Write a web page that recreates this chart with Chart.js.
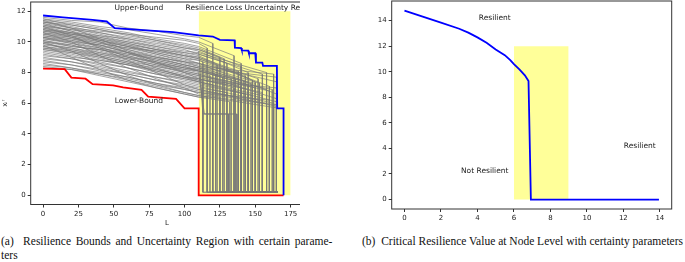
<!DOCTYPE html>
<html>
<head>
<meta charset="utf-8">
<script src="https://cdn.jsdelivr.net/npm/chart.js@4.4.1/dist/chart.umd.min.js"></script>
<style>
  body { margin: 0; background: #fff; width: 685px; height: 262px; position: relative; overflow: hidden; }
  #wrapA { position: absolute; left: 0; top: 0; width: 300px; height: 228px; overflow: hidden; }
  #chartA { position: absolute; left: 0; top: 0; }
  #chartB { position: absolute; left: 360px; top: 0; }
  .cap { position: absolute; top: 234px; font-family: "Liberation Serif", serif; font-size: 11.5px; line-height: 14px; color: #111; white-space: nowrap; }
</style>
</head>
<body>
<div id="wrapA"><canvas id="chartA" width="310" height="228"></canvas></div>
<canvas id="chartB" width="325" height="225"></canvas>
<div class="cap" style="left:1px;"><span style="word-spacing:1.8px;">(a)&nbsp; Resilience Bounds and Uncertainty Region with certain parame-</span><br>ters</div>
<div class="cap" style="left:362px;">(b)&nbsp; Critical Resilience Value at Node Level with certainty parameters</div>

<script>
// ---- chart (a) data ----
const xTicksA = [0, 25, 50, 75, 100, 125, 150, 175];
const yTicksA = [0, 2, 4, 6, 8, 10, 12];

// upper bound (blue)
const upperX = [0, 14, 35, 45, 50.7, 68, 92, 110, 120, 125, 135.4, 135.6, 140, 140.5, 145, 145.5, 150, 150.5, 155, 155.5, 165.3, 165.5, 170, 170];
const upperY = [11.72, 11.6, 11.43, 11.33, 10.9, 10.78, 10.63, 10.43, 10.35, 10.13, 10.1, 9.63, 9.6, 9.45, 9.43, 9.26, 9.26, 8.65, 8.65, 8.43, 8.43, 5.67, 5.67, 0];

// lower bound (red)
const lowerX = [0, 15.3, 20, 30, 35, 49.5, 56.6, 69.6, 74.3, 94, 100, 110, 110, 170];
const lowerY = [8.26, 8.22, 7.67, 7.6, 7.24, 7.17, 7.04, 6.87, 6.43, 6.28, 5.67, 5.67, 0, 0];

// uncertainty region
const regionX = [110, 175];
const regionTop = 12;

// gray runs: values at grayX, then the L where the run falls and the value just before it
const grayX = [0, 20, 40, 60, 80, 100, 110];
const grayRuns = [
  [11.6, 11.4, 11.3, 10.9, 10.7, 10.4, 10.3, 120, 9.9],
  [11.5, 11.3, 11.0, 10.8, 10.5, 10.2, 10.0, 135, 9.1],
  [11.5, 11.1, 10.8, 10.4, 10.1, 9.8, 9.6, 128, 8.9],
  [11.4, 11.2, 10.9, 10.6, 10.2, 9.9, 9.7, 140, 8.6],
  [11.3, 11.0, 10.6, 10.3, 10.0, 9.6, 9.4, 145, 8.0],
  [11.3, 10.9, 10.7, 10.5, 10.3, 10.1, 9.9, 116, 9.6],
  [11.2, 10.9, 10.5, 10.1, 9.7, 9.3, 9.1, 150, 7.4],
  [11.1, 10.8, 10.6, 10.2, 9.8, 9.5, 9.2, 155, 7.9],
  [11.1, 10.7, 10.3, 9.9, 9.5, 9.1, 8.9, 160, 7.1],
  [11.0, 10.8, 10.4, 10.2, 9.9, 9.6, 9.5, 125, 9.0],
  [10.9, 10.6, 10.2, 9.8, 9.3, 8.9, 8.6, 165, 6.6],
  [10.9, 10.5, 10.3, 10.0, 9.6, 9.2, 9.0, 138, 8.1],
  [10.8, 10.6, 10.1, 9.7, 9.4, 9.0, 8.8, 148, 7.5],
  [10.7, 10.4, 10.0, 9.5, 9.0, 8.5, 8.3, 165, 7.7],
  [10.7, 10.5, 10.2, 9.9, 9.5, 9.3, 9.2, 130, 8.6],
  [10.6, 10.3, 9.9, 9.6, 9.2, 8.8, 8.6, 143, 7.8],
  [10.5, 10.2, 9.8, 9.3, 8.8, 8.4, 8.1, 158, 6.9],
  [10.5, 10.3, 10.0, 9.7, 9.3, 8.9, 8.8, 113, 8.7],
  [10.4, 10.1, 9.7, 9.4, 9.0, 8.7, 8.5, 153, 7.3],
  [10.3, 10.0, 9.8, 9.5, 9.1, 8.6, 8.4, 163, 7.9],
  [10.3, 9.9, 9.5, 9.1, 8.6, 8.1, 7.9, 165, 6.3],
  [10.2, 10.0, 9.6, 9.2, 8.9, 8.5, 8.3, 122, 7.9],
  [10.1, 9.8, 9.4, 9.0, 8.7, 8.3, 8.1, 145, 7.2],
  [10.1, 9.7, 9.5, 9.2, 8.8, 8.4, 8.2, 133, 7.6],
  [10.0, 9.8, 9.3, 8.9, 8.5, 8.0, 7.8, 160, 6.8],
  [9.9, 9.6, 9.3, 9.0, 8.6, 8.2, 8.0, 118, 7.8],
  [9.9, 9.5, 9.1, 8.7, 8.2, 7.8, 7.5, 165, 7.0],
  [9.8, 9.6, 9.2, 8.8, 8.4, 8.1, 7.9, 150, 7.0],
  [9.7, 9.4, 9.0, 8.6, 8.3, 7.9, 7.7, 140, 7.1],
  [9.7, 9.5, 9.2, 8.9, 8.5, 8.2, 8.1, 127, 7.7],
  [9.6, 9.3, 8.9, 8.5, 8.0, 7.6, 7.4, 165, 6.1],
  [9.5, 9.2, 8.8, 8.5, 8.2, 7.8, 7.6, 155, 6.7],
  [9.5, 9.3, 9.0, 8.6, 8.1, 7.7, 7.5, 113, 7.4],
  [9.4, 9.1, 8.7, 8.3, 7.9, 7.5, 7.3, 148, 6.5],
  [9.3, 9.0, 8.8, 8.5, 8.1, 7.7, 7.6, 135, 7.0],
  [9.2, 8.9, 8.5, 8.1, 7.7, 7.3, 7.1, 163, 6.0],
  [9.1, 8.9, 8.6, 8.3, 7.9, 7.6, 7.4, 120, 7.2],
  [9.0, 8.7, 8.3, 7.9, 7.5, 7.1, 6.9, 165, 5.8],
  [8.9, 8.7, 8.4, 8.0, 7.7, 7.4, 7.2, 143, 6.6],
  [8.8, 8.5, 8.1, 7.7, 7.3, 6.9, 6.7, 158, 6.0],
  [8.7, 8.5, 8.2, 7.9, 7.5, 7.2, 7.0, 130, 6.7],
  [8.6, 8.3, 7.9, 7.5, 7.1, 6.7, 6.5, 165, 5.9],
  [8.5, 8.3, 8.0, 7.7, 7.3, 7.0, 6.8, 153, 6.2],
  [8.4, 8.2, 7.8, 7.4, 7.0, 6.6, 6.4, 116, 6.4],
  [8.3, 8.2, 7.9, 7.6, 7.2, 6.9, 6.7, 160, 6.2],
  [11.4, 10.9, 10.2, 9.4, 8.7, 8.0, 7.6, 145, 6.9],
  [11.0, 10.4, 9.6, 8.8, 8.0, 7.2, 6.9, 138, 6.4],
  [10.6, 10.0, 9.1, 8.3, 7.6, 7.0, 6.6, 125, 6.4],
  [10.0, 9.4, 8.6, 7.8, 7.2, 6.7, 6.5, 165, 5.7],
  [11.2, 10.7, 10.0, 9.3, 8.6, 8.3, 8.1, 150, 7.3],
  [10.8, 10.3, 9.7, 9.0, 8.3, 7.7, 7.4, 155, 6.5],
  [9.8, 9.0, 8.2, 7.5, 7.0, 6.6, 6.4, 132, 6.1],
  [10.4, 10.2, 9.9, 9.6, 9.4, 9.1, 9.0, 123, 8.5],
  [11.3, 11.1, 10.8, 10.5, 10.1, 9.7, 9.5, 140, 8.4],
  [10.2, 9.9, 9.6, 9.3, 9.0, 8.7, 8.6, 165, 7.4],
  [11.0, 10.6, 10.4, 10.0, 9.7, 9.4, 9.3, 158, 8.0],
  [10.6, 10.4, 10.1, 9.8, 9.5, 9.1, 8.9, 152, 7.6],
  [10.0, 9.7, 9.5, 9.1, 8.7, 8.3, 8.2, 147, 7.3],
  [9.6, 9.4, 9.1, 8.7, 8.4, 8.0, 7.8, 162, 6.9],
  [10.8, 10.5, 10.1, 9.7, 9.2, 8.7, 8.4, 136, 7.6],
  [10.3, 10.1, 9.8, 9.3, 8.9, 8.5, 8.3, 142, 7.5]
];
const grayFloor = 0.2;
const grayEnd = 166;
// two runs that pause on a shelf before falling
const shelfX = [[110, 113, 137, 137], [110, 114, 131, 131]];
const shelfY = [[9.4, 5.3, 5.3, 0.2], [8.0, 5.3, 5.3, 0.2]];

// ---- chart (b) data ----
const xTicksB = [0, 2, 4, 6, 8, 10, 12, 14];
const yTicksB = [0, 2, 4, 6, 8, 10, 12, 14];
const critX = [0, 1, 2, 3, 3.5, 4, 4.5, 5, 5.5, 5.8, 6, 6.3, 6.6, 6.8, 6.93, 13.95];
const critY = [14.78, 14.31, 13.84, 13.37, 13.06, 12.69, 12.27, 11.75, 11.3, 10.92, 10.6, 10.19, 9.72, 9.27, 0, 0];
const bandX = [6, 9];
const bandTop = 12;

const tickFont = { family: "DejaVu Sans", size: 7 };
const noteFont = "7.5px 'DejaVu Sans'";

function pts(xs, ys) {
  return xs.map((x, i) => ({ x: x, y: ys[i] }));
}

function lineSet(data, color, width, order) {
  return { data: data, showLine: true, borderColor: color, borderWidth: width, pointRadius: 0, fill: false, tension: 0, order: order };
}

function fixedTicks(values) {
  return function (scale) {
    scale.ticks = values.map((v) => ({ value: v }));
  };
}

// box around the plot + text notes at data coords
const framePlugin = {
  id: "frame",
  afterDatasetsDraw(chart, args, opts) {
    const { ctx, chartArea, scales } = chart;
    ctx.save();
    ctx.strokeStyle = "#333";
    ctx.lineWidth = 1;
    ctx.strokeRect(chartArea.left, chartArea.top, chartArea.right - chartArea.left, chartArea.bottom - chartArea.top);
    ctx.fillStyle = "#222";
    ctx.font = noteFont;
    ctx.textBaseline = "middle";
    (opts.notes || []).forEach((n) => {
      ctx.textAlign = n.align || "center";
      ctx.fillText(n.text, scales.x.getPixelForValue(n.x), scales.y.getPixelForValue(n.y));
    });
    ctx.restore();
  },
};

function axis(min, max, ticks, size, title) {
  return {
    type: "linear",
    min: min,
    max: max,
    afterBuildTicks: fixedTicks(ticks),
    grid: { drawOnChartArea: false, drawTicks: true, tickLength: 3, color: "#333" },
    border: { display: false },
    ticks: { font: tickFont, color: "#222", padding: 2, maxRotation: 0, autoSkip: false },
    title: title ? { display: true, text: title, font: { family: "DejaVu Sans", size: 7 }, color: "#222", padding: 1 } : { display: false },
    afterFit: function (s) {
      size(s);
      s.paddingTop = 0; s.paddingBottom = 0; s.paddingLeft = 0; s.paddingRight = 0;
    },
  };
}

// chart (a)
const setsA = [];
setsA.push({
  data: pts(regionX, [regionTop, regionTop]),
  showLine: true, borderWidth: 0, pointRadius: 0, order: 10,
  fill: "origin", backgroundColor: "rgba(255,255,0,0.4)",
});
grayRuns.forEach((r) => {
  const xs = grayX.concat([r[7], r[7], grayEnd]);
  const ys = r.slice(0, 7).concat([r[8], grayFloor, grayFloor]);
  setsA.push(lineSet(pts(xs, ys), "rgba(120,120,120,0.9)", 0.75, 5));
});
shelfX.forEach((xs, i) => setsA.push(lineSet(pts(xs, shelfY[i]), "rgba(120,120,120,0.95)", 0.9, 5)));
setsA.push(lineSet(pts(upperX, upperY), "#0000ff", 1.8, 0));
setsA.push(lineSet(pts(lowerX, lowerY), "#ff0000", 1.8, 0));

new Chart(document.getElementById("chartA"), {
  type: "scatter",
  data: { datasets: setsA },
  options: {
    responsive: false,
    animation: false,
    layout: { padding: { top: 2, right: 7, left: 0, bottom: 0 } },
    plugins: {
      legend: { display: false },
      tooltip: { enabled: false },
      frame: {
        notes: [
          { text: "Upper-Bound", x: 67.7, y: 12.2 },
          { text: "Lower-Bound", x: 67.7, y: 6.17 },
          { text: "Resilience Loss Uncertainty Region", x: 100.7, y: 12.2, align: "left" },
        ],
      },
    },
    scales: {
      x: axis(-8.75, 183.75, xTicksA, (s) => { s.height = 23.5; }, "L"),
      y: axis(-0.6, 12.6, yTicksA, (s) => { s.width = 30.7; }, "xᵢʳ"),
    },
  },
  plugins: [framePlugin],
});

// chart (b)
new Chart(document.getElementById("chartB"), {
  type: "scatter",
  data: {
    datasets: [
      {
        data: pts(bandX, [bandTop, bandTop]),
        showLine: true, borderWidth: 0, pointRadius: 0, order: 10,
        fill: "origin", backgroundColor: "rgba(255,255,0,0.4)",
      },
      lineSet(pts(critX, critY), "#0000ff", 1.8, 0),
    ],
  },
  options: {
    responsive: false,
    animation: false,
    layout: { padding: { top: 1, right: 13.3, left: 0, bottom: 0 } },
    plugins: {
      legend: { display: false },
      tooltip: { enabled: false },
      frame: {
        notes: [
          { text: "Resilient", x: 4.95, y: 14.2 },
          { text: "Resilient", x: 12.9, y: 4.2 },
          { text: "Not Resilient", x: 4.4, y: 2.2 },
        ],
      },
    },
    scales: {
      x: axis(-0.7, 14.65, xTicksB, (s) => { s.height = 16; }, null),
      y: axis(-0.74, 15.54, yTicksB, (s) => { s.width = 31.7; }, null),
    },
  },
  plugins: [framePlugin],
});
</script>
</body>
</html>
